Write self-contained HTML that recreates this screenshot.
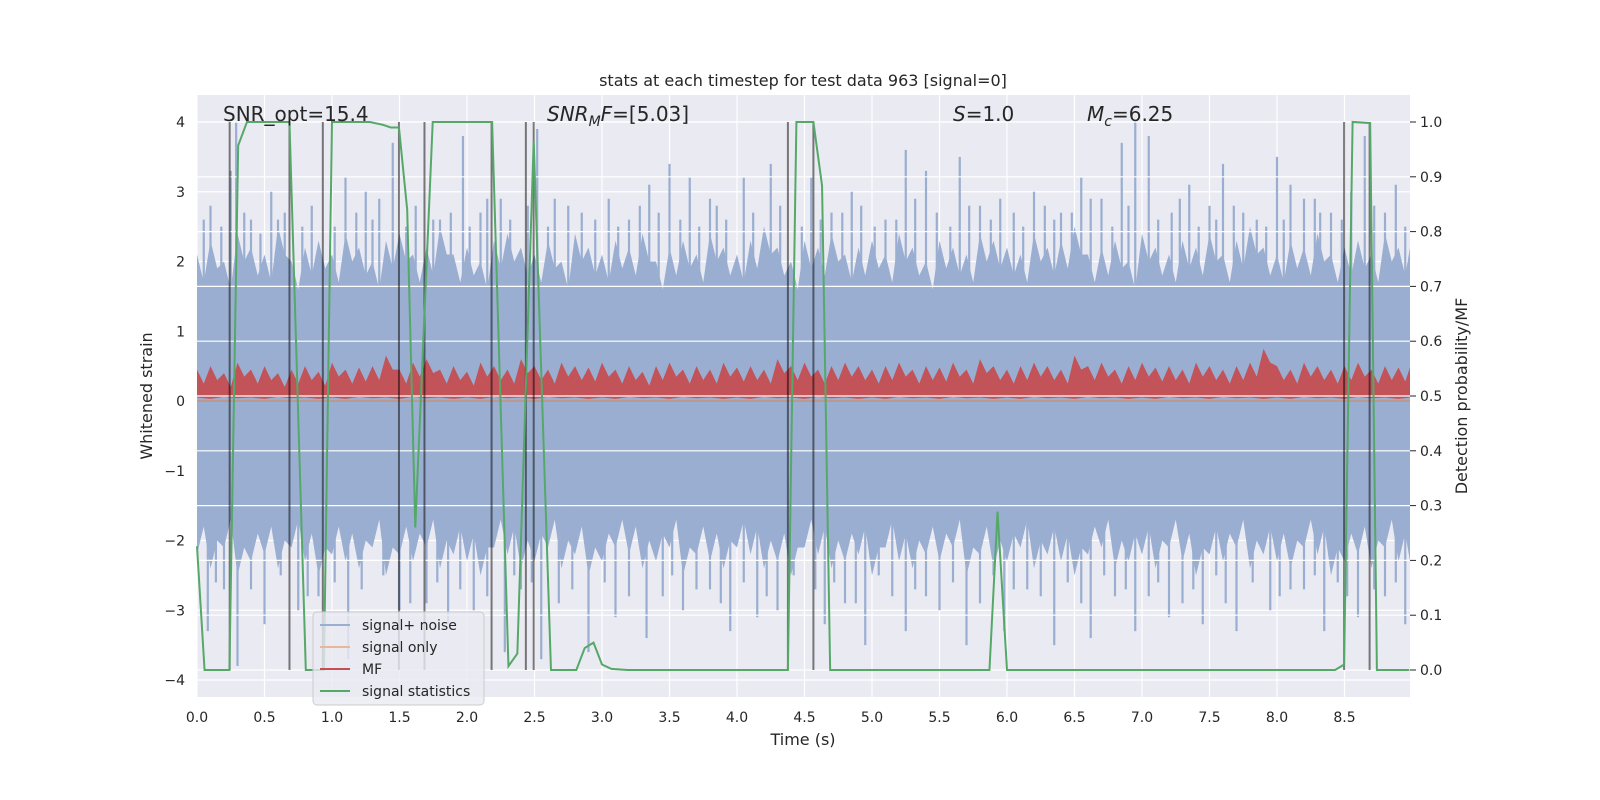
<!DOCTYPE html>
<html><head><meta charset="utf-8"><style>
html,body{margin:0;padding:0;background:#fff;}
svg{display:block;font-family:"DejaVu Sans","Liberation Sans",sans-serif;}
</style></head><body>
<svg id="chart" width="1600" height="800" viewBox="0 0 1600 800">
<rect x="197" y="95" width="1213" height="602" fill="#eaeaf2"/>
<g id="gridL"></g>
<g id="noise"></g>
<line x1="197" x2="1410" y1="401" y2="401" stroke="#dd8452" stroke-width="1.5" opacity="0.7"/>
<g id="mf"></g>
<g id="gridR"></g>
<g id="vlines"></g>
<g id="green"></g>
<g id="ticks"></g>
<text x="803" y="86" text-anchor="middle" font-size="16" fill="#262626">stats at each timestep for test data 963 [signal=0]</text>
<text x="223" y="121" font-size="20" fill="#262626">SNR_opt=15.4</text>
<text x="547" y="121" font-size="20" fill="#262626"><tspan font-style="italic">SNR</tspan><tspan font-style="italic" font-size="14" dy="5">M</tspan><tspan font-style="italic" dy="-5">F</tspan>=[5.03]</text>
<text x="953" y="121" font-size="20" fill="#262626"><tspan font-style="italic">S</tspan>=1.0</text>
<text x="1087" y="121" font-size="20" fill="#262626"><tspan font-style="italic">M</tspan><tspan font-style="italic" font-size="14" dy="5">c</tspan><tspan dy="-5">=6.25</tspan></text>
<text transform="translate(152,396) rotate(-90)" text-anchor="middle" font-size="16" fill="#262626">Whitened strain</text>
<text transform="translate(1467,396) rotate(-90)" text-anchor="middle" font-size="16" fill="#262626">Detection probability/MF</text>
<text x="803" y="745" text-anchor="middle" font-size="16" fill="#262626">Time (s)</text>
<g>
<rect x="313" y="612" width="171" height="93" rx="4" fill="#eaeaf2" fill-opacity="0.8" stroke="#cccccc"/>
<line x1="320" x2="350" y1="625" y2="625" stroke="#9aaed1" stroke-width="2"/>
<text x="362" y="630" font-size="14" fill="#262626">signal+ noise</text>
<line x1="320" x2="350" y1="647" y2="647" stroke="#eab598" stroke-width="2"/>
<text x="362" y="652" font-size="14" fill="#262626">signal only</text>
<line x1="320" x2="350" y1="669" y2="669" stroke="#c44e52" stroke-width="2"/>
<text x="362" y="674" font-size="14" fill="#262626">MF</text>
<line x1="320" x2="350" y1="691" y2="691" stroke="#55a868" stroke-width="2"/>
<text x="362" y="696" font-size="14" fill="#262626">signal statistics</text>
</g>
</svg>
<script>
const xTicks=["0.0","0.5","1.0","1.5","2.0","2.5","3.0","3.5","4.0","4.5","5.0","5.5","6.0","6.5","7.0","7.5","8.0","8.5"];
const yTicksL=[-4,-3,-2,-1,0,1,2,3,4];
const yTicksR=["0.0","0.1","0.2","0.3","0.4","0.5","0.6","0.7","0.8","0.9","1.0"];
const statT=[0,0.056,0.24,0.305,0.37,0.685,0.806,0.94,1.0,1.28,1.375,1.435,1.496,1.557,1.617,1.746,2.186,2.307,2.373,2.494,2.622,2.81,2.872,2.937,3.0,3.07,3.19,4.33,4.377,4.44,4.566,4.63,4.69,5.87,5.93,6.0,8.43,8.497,8.56,8.69,8.74,8.98];
const statP=[0.226,0,0,0.957,1,1,0,0,1,1,0.995,0.99,0.99,0.84,0.26,1,1,0.007,0.03,0.965,0,0,0.04,0.05,0.01,0.002,0,0,0,1,1,0.884,0,0,0.289,0,0,0.01,1,0.998,0,0];
const markerT=[0.242,0.685,0.932,1.496,1.685,2.182,2.436,2.494,4.377,4.566,8.497,8.686];
const noiseUpper=[2.1,2.3,2.0,2.4,2.2,2.1,2.5,2.0,2.2,2.3,2.1,2.4,2.2,2.0,2.3,2.4,2.1,2.2,2.5,2.1,2.2,2.0,2.3,2.4,2.2,2.1,2.3,2.0,2.4,2.2,2.1,2.3,2.2,2.4,2.0,2.2,2.3,2.1,2.4,2.2,2.1,2.3,2.5,2.2,2.0,2.3,2.2,2.4,2.1,2.2,2.3,2.1,2.4,2.2,2.0,2.3,2.2,2.1,2.4,2.3,2.2,2.1,2.4,2.2,2.3,2.5,2.1,2.2,2.3,2.0,2.4,2.2,2.1,2.3,2.2,2.4,2.1,2.3,2.5,2.2,2.1,2.3,2.2,2.4,2.1,2.2,2.3,2.1,2.4,2.2];
const noiseLower=[-2.2,-2.4,-2.1,-2.5,-2.3,-2.2,-2.4,-2.1,-2.3,-2.5,-2.2,-2.3,-2.4,-2.1,-2.5,-2.2,-2.3,-2.1,-2.4,-2.2,-2.3,-2.5,-2.1,-2.2,-2.4,-2.3,-2.1,-2.4,-2.2,-2.5,-2.3,-2.1,-2.2,-2.4,-2.3,-2.1,-2.5,-2.2,-2.3,-2.4,-2.1,-2.2,-2.4,-2.3,-2.5,-2.1,-2.2,-2.4,-2.3,-2.2,-2.5,-2.1,-2.3,-2.4,-2.2,-2.3,-2.1,-2.5,-2.2,-2.4,-2.3,-2.1,-2.4,-2.2,-2.3,-2.5,-2.2,-2.1,-2.4,-2.3,-2.2,-2.4,-2.1,-2.3,-2.5,-2.2,-2.3,-2.1,-2.4,-2.2,-2.3,-2.4,-2.1,-2.2,-2.5,-2.3,-2.2,-2.4,-2.1,-2.3];
const spikeUpT=[0.1,0.25,0.29,0.55,0.78,1.1,1.25,1.45,1.97,2.25,2.52,2.75,3.05,3.35,3.5,3.65,4.05,4.25,4.55,4.85,5.25,5.4,5.65,5.95,6.2,6.55,6.85,6.95,7.05,7.35,7.6,8.0,8.1,8.2,8.55,8.65,8.88,0.4,0.65,1.35,1.8,2.1,2.65,3.2,3.85,4.7,5.1,5.8,6.4,6.7,7.5,7.85,8.4,0.05,0.18,0.35,0.47,0.6,0.85,1.02,1.18,1.3,1.55,1.62,1.75,1.88,2.02,2.15,2.32,2.45,2.6,2.85,2.95,3.12,3.28,3.42,3.58,3.72,3.8,3.92,4.12,4.32,4.48,4.62,4.78,4.92,5.02,5.18,5.32,5.48,5.58,5.72,5.88,6.05,6.12,6.28,6.35,6.48,6.62,6.78,6.9,7.12,7.22,7.28,7.42,7.55,7.68,7.75,7.92,8.05,8.28,8.32,8.48,8.72,8.8,8.95];
const spikeUpV=[2.8,3.3,4.0,3.0,2.5,3.2,3.0,3.7,3.8,2.9,3.9,2.8,2.9,3.1,3.4,3.2,3.2,3.4,3.2,3.0,3.6,3.3,3.5,2.9,3.0,3.2,3.7,4.0,3.8,3.1,3.4,3.5,3.1,2.9,3.0,3.8,3.1,2.6,2.7,2.9,2.6,2.7,2.9,2.6,2.8,2.7,2.6,2.8,2.7,2.9,2.8,2.6,2.7,2.6,2.5,2.7,2.4,2.6,2.8,2.5,2.7,2.6,2.5,2.8,2.6,2.7,2.5,2.9,2.6,2.8,2.5,2.7,2.6,2.5,2.8,2.7,2.6,2.5,2.9,2.6,2.7,2.8,2.5,2.6,2.7,2.8,2.5,2.6,2.9,2.7,2.5,2.8,2.6,2.7,2.5,2.8,2.6,2.7,2.9,2.5,2.8,2.6,2.7,2.9,2.5,2.6,2.8,2.7,2.5,2.6,2.9,2.7,2.6,2.8,2.7,2.5];
const spikeDnT=[0.08,0.3,0.5,0.75,1.12,1.5,1.86,2.05,2.28,2.55,2.9,3.1,3.33,3.6,3.95,4.15,4.3,4.65,4.95,5.25,5.5,5.7,5.98,6.35,6.62,6.95,7.2,7.45,7.7,7.95,8.35,8.6,8.95,0.2,0.9,1.7,2.4,3.45,3.8,4.8,5.4,6.15,6.8,7.3,8.1,8.8,0.14,0.4,0.62,0.82,1.02,1.22,1.38,1.58,1.78,1.95,2.15,2.35,2.48,2.68,2.78,3.02,3.2,3.52,3.7,3.88,4.05,4.22,4.42,4.58,4.72,4.88,5.05,5.15,5.32,5.6,5.8,5.9,6.05,6.25,6.45,6.55,6.72,6.88,7.05,7.12,7.38,7.55,7.62,7.82,8.02,8.2,8.28,8.45,8.52,8.72,8.88];
const spikeDnV=[-3.3,-3.8,-3.2,-3.0,-3.7,-3.0,-3.2,-3.0,-3.6,-3.7,-3.6,-3.1,-3.4,-3.0,-3.3,-3.1,-3.0,-3.2,-3.5,-3.3,-3.0,-3.5,-3.3,-3.5,-3.4,-3.3,-3.1,-3.2,-3.3,-3.0,-3.3,-3.1,-3.2,-2.7,-2.8,-2.9,-2.7,-2.8,-2.7,-2.9,-2.8,-2.7,-2.8,-2.9,-2.7,-2.8,-2.6,-2.7,-2.5,-2.8,-2.6,-2.7,-2.5,-2.9,-2.6,-2.7,-2.8,-2.5,-2.6,-2.9,-2.7,-2.6,-2.8,-2.5,-2.7,-2.9,-2.6,-2.8,-2.5,-2.7,-2.6,-2.9,-2.5,-2.8,-2.7,-2.6,-2.9,-2.5,-2.7,-2.8,-2.6,-2.9,-2.5,-2.7,-2.8,-2.6,-2.7,-2.5,-2.9,-2.6,-2.8,-2.7,-2.5,-2.6,-2.8,-2.7,-2.6];
const mfUpper=[0.45,0.5,0.4,0.55,0.45,0.5,0.4,0.45,0.5,0.42,0.55,0.45,0.48,0.5,0.65,0.45,0.55,0.6,0.45,0.5,0.42,0.55,0.5,0.45,0.6,0.5,0.45,0.55,0.5,0.48,0.55,0.45,0.5,0.42,0.5,0.55,0.45,0.5,0.45,0.55,0.48,0.5,0.45,0.6,0.5,0.55,0.45,0.5,0.55,0.5,0.45,0.5,0.55,0.45,0.5,0.48,0.55,0.45,0.6,0.5,0.45,0.5,0.55,0.5,0.45,0.65,0.5,0.55,0.45,0.5,0.55,0.48,0.5,0.45,0.55,0.5,0.45,0.5,0.55,0.75,0.5,0.45,0.55,0.5,0.45,0.5,0.55,0.45,0.5,0.48];
const mfLower=[0.05,0.03,0.06,0.04,0.05,0.03,0.06,0.04,0.05,0.03];

const NS='http://www.w3.org/2000/svg';
const X0=197,X1=1410;
function X(t){return 197+135*t;}
function YL(v){return 401-69.75*v;}
function YR(p){return 670-548*p;}
function mk(tag,parent,attrs){const e=document.createElementNS(NS,tag);for(const k in attrs)e.setAttribute(k,attrs[k]);document.getElementById(parent).appendChild(e);return e;}

yTicksL.forEach(v=>{
  const l=mk('line','gridL',{x1:X0,x2:X1,y1:YL(v),y2:YL(v),stroke:'#fff','stroke-width':1.2});
  
  
  const t=mk('text','ticks',{x:185,y:YL(v)+5,'text-anchor':'end','font-size':14,fill:'#262626'});
  t.textContent=String(v).replace('-','\u2212');
  
  
});
xTicks.forEach(s=>{
  const x=X(parseFloat(s));
  const l=mk('line','gridL',{x1:x,x2:x,y1:95,y2:697,stroke:'#fff','stroke-width':1.2});
  
  
  const t=mk('text','ticks',{x:x,y:722,'text-anchor':'middle','font-size':14,fill:'#262626'});
  t.textContent=s;
  
  
});
let pts=[];
noiseUpper.forEach((v,i)=>{pts.push(X(i*0.1)+','+YL(v));pts.push(X(i*0.1+0.05)+','+YL(v-0.4));});
pts.push(X1+','+YL(noiseUpper[noiseUpper.length-1]));
pts.push(X1+','+YL(noiseLower[noiseLower.length-1]));
for(let i=noiseLower.length-1;i>=0;i--){pts.push(X(i*0.1+0.05)+','+YL(noiseLower[i]+0.4));pts.push(X(i*0.1)+','+YL(noiseLower[i]));}
const band=mk('polygon','noise',{points:pts.join(' '),fill:'#9aaed1'});


spikeUpT.forEach((t,i)=>{
  const l=mk('line','noise',{x1:X(t),x2:X(t),y1:YL(1.5),y2:YL(spikeUpV[i]),stroke:'#9aaed1','stroke-width':2.2});
  
  
});
spikeDnT.forEach((t,i)=>{
  const l=mk('line','noise',{x1:X(t),x2:X(t),y1:YL(-1.5),y2:YL(spikeDnV[i]),stroke:'#9aaed1','stroke-width':2.2});
  
  
});
let mp=[];
mfUpper.forEach((v,i)=>{mp.push(X(i*0.1)+','+YL(v));mp.push(X(i*0.1+0.05)+','+YL(v-0.2));});
mp.push(X1+','+YL(mfUpper[mfUpper.length-1]));
mp.push(X1+','+YL(mfLower[0]));
for(let i=mfUpper.length-1;i>=0;i--){mp.push(X(i*0.1)+','+YL(mfLower[i%mfLower.length]));}
const mfp=mk('polygon','mf',{points:mp.join(' '),fill:'#c44e52','fill-opacity':0.95});


yTicksR.forEach(s=>{
  const p=parseFloat(s);
  const l=mk('line','gridR',{x1:X0,x2:X1,y1:YR(p),y2:YR(p),stroke:'#fff','stroke-width':1.2});
  
  
  const tk=mk('line','ticks',{x1:1410,x2:1416,y1:YR(p),y2:YR(p),stroke:'#262626','stroke-width':1});
  
  
  const t=mk('text','ticks',{x:1420,y:YR(p)+5,'font-size':14,fill:'#262626'});
  t.textContent=s;
  
  
});
markerT.forEach(t=>{
  const l=mk('line','vlines',{x1:X(t),x2:X(t),y1:YR(1),y2:YR(0),stroke:'#000','stroke-opacity':0.5,'stroke-width':2});
  
  
});
const gp=statT.map((t,i)=>X(t)+','+YR(statP[i])).join(' ');
const g=mk('polyline','green',{points:gp,fill:'none',stroke:'#55a868','stroke-width':2});


</script>
</body></html>
